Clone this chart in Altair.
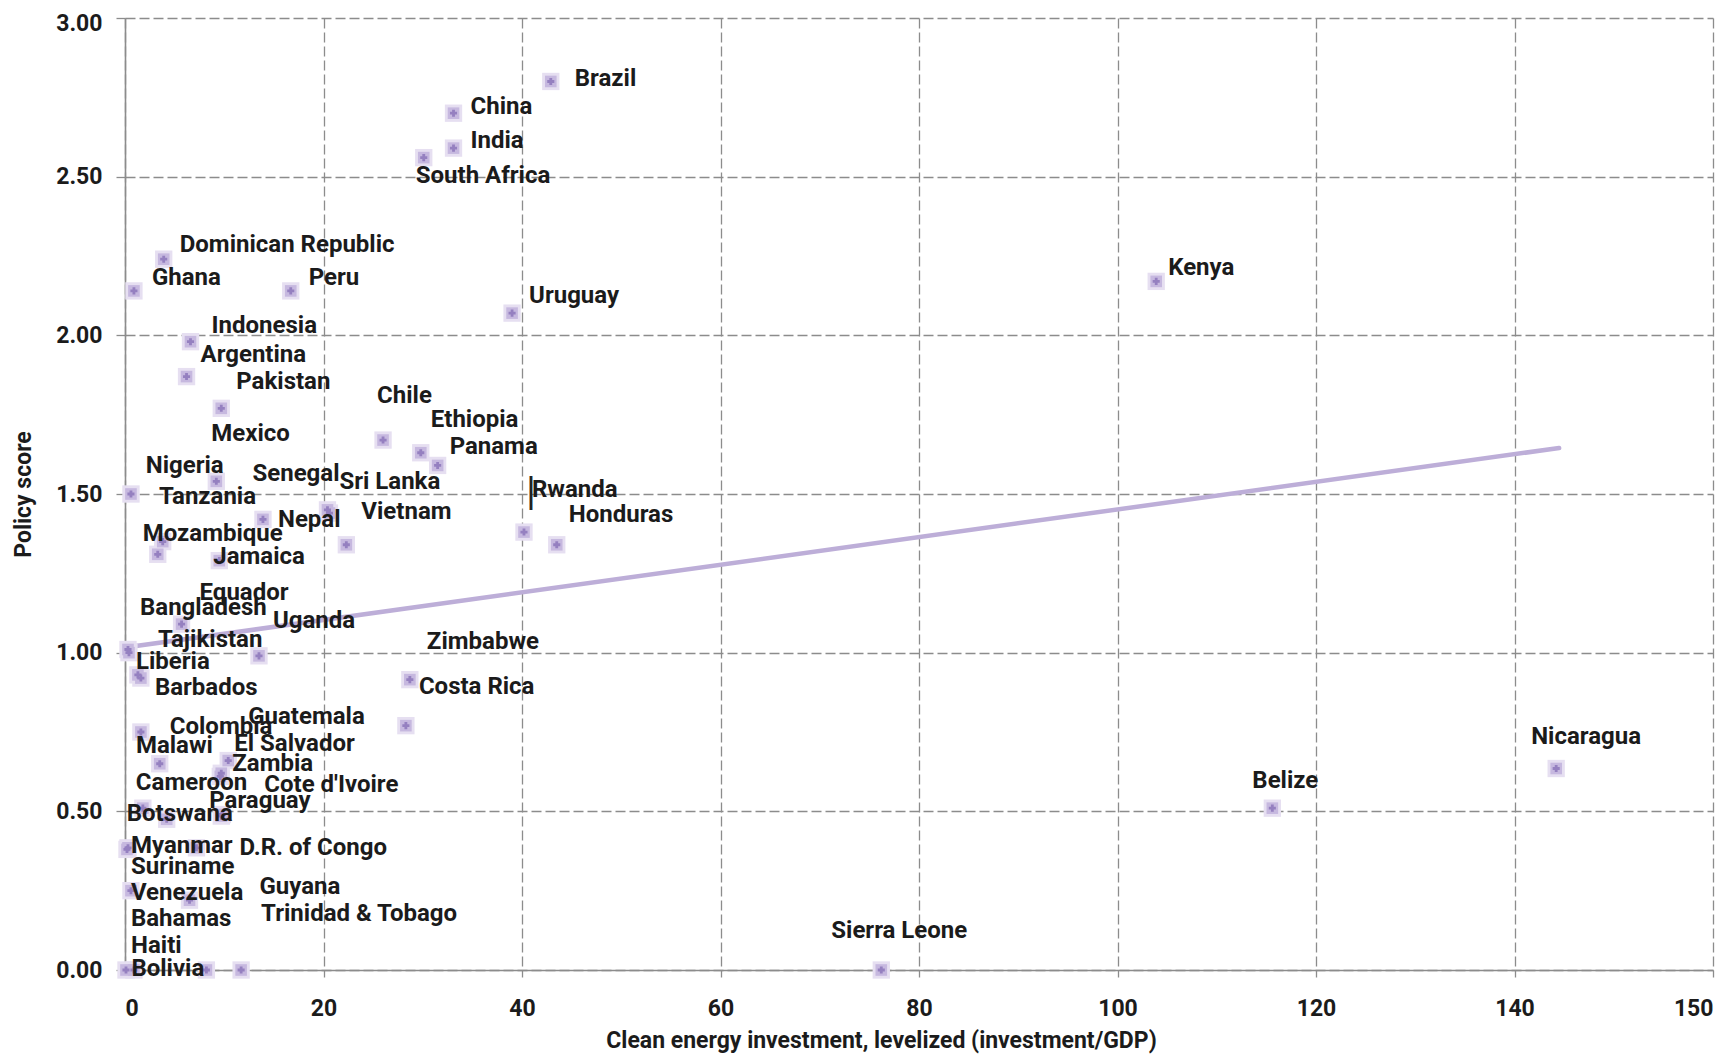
import altair as alt
import pandas as pd

# ---- data ----
countries = [
    "Brazil", "China", "India", "South Africa", "Uruguay", "Dominican Republic",
    "Ghana", "Peru", "Kenya", "Indonesia", "Argentina", "Pakistan", "Chile",
    "Ethiopia", "Panama", "Mexico", "Tanzania", "Sri Lanka", "Senegal", "Nepal",
    "Vietnam", "Rwanda", "Honduras", "Mozambique", "Nigeria", "Jamaica",
    "Equador", "Bangladesh", "Liberia", "Uganda", "Tajikistan", "Barbados",
    "Zimbabwe", "Costa Rica", "Malawi", "Colombia", "Guatemala", "El Salvador",
    "Zambia", "Cameroon", "Botswana", "Paraguay", "Cote d'Ivoire", "Myanmar",
    "D.R. of Congo", "Suriname", "Venezuela", "Guyana", "Trinidad & Tobago",
    "Bolivia", "Haiti", "Bahamas", "Belize", "Nicaragua", "Sierra Leone",
]
investment = [
    42.9, 33.1, 33.1, 30.1, 39.0, 3.9,
    0.9, 16.7, 103.9, 6.6, 6.2, 9.7, 26.0,
    29.8, 31.5, 9.2, 0.6, 20.6, 20.4, 13.9,
    22.3, 40.2, 43.5, 3.8, 3.3, 9.5,
    5.7, 0.3, 0.4, 13.5, 1.3, 1.6,
    28.7, 28.3, 1.6, 3.5, 10.4, 9.7,
    9.6, 1.8, 4.2, 9.7, 9.8, 0.3,
    7.2, 0.2, 0.6, 6.5, 11.7,
    8.2, 0.1, 0.9, 115.6, 144.2, 76.2,
]
policy = [
    2.80, 2.70, 2.59, 2.56, 2.07, 2.24,
    2.14, 2.14, 2.17, 1.98, 1.87, 1.77, 1.67,
    1.63, 1.59, 1.54, 1.50, 1.44, 1.45, 1.42,
    1.34, 1.38, 1.34, 1.35, 1.31, 1.29,
    1.09, 1.01, 1.00, 0.99, 0.93, 0.92,
    0.915, 0.77, 0.75, 0.65, 0.66, 0.62,
    0.61, 0.51, 0.475, 0.485, 0.49, 0.385,
    0.385, 0.38, 0.25, 0.22, 0.00,
    0.00, 0.00, 0.00, 0.51, 0.635, 0.00,
]

# trend line end points
trend_x = [0.0, 144.5]
trend_y = [1.016, 1.645]

x_ticks = [0, 20, 40, 60, 80, 100, 120, 140, 160]
y_ticks = [0.0, 0.5, 1.0, 1.5, 2.0, 2.5, 3.0]

# label placement (pixel offsets of each label from its point)
label_offsets = {
    "Brazil": (24, -2), "China": (17, -6), "India": (17, -7),
    "South Africa": (-8, 18), "Uruguay": (17, -17),
    "Dominican Republic": (16, -14), "Ghana": (18, -13), "Peru": (18, -13),
    "Kenya": (12, -13), "Indonesia": (21, -16), "Argentina": (14, -22),
    "Pakistan": (15, -26), "Chile": (-6, -44), "Ethiopia": (10, -33),
    "Panama": (12, -18), "Mexico": (-5, -47), "Tanzania": (28, 3),
    "Sri Lanka": (10, -31), "Senegal": (-75, -36), "Nepal": (15, 1),
    "Vietnam": (15, -33), "Rwanda": (8, -42), "Honduras": (12, -30),
    "Mozambique": (-20, -8), "Nigeria": (-12, -88), "Jamaica": (-6, -4),
    "Equador": (18, -31), "Bangladesh": (12, -41), "Liberia": (7, 9),
    "Uganda": (14, -35), "Tajikistan": (20, -35), "Barbados": (14, 10),
    "Zimbabwe": (17, -38), "Costa Rica": (13, -39), "Malawi": (-5, 14),
    "Colombia": (10, -37), "Guatemala": (20, -44), "El Salvador": (13, -29),
    "Zambia": (12, -12), "Cameroon": (-7, -25), "Botswana": (-40, -5),
    "Paraguay": (-12, -15), "Cote d'Ivoire": (42, -30), "Myanmar": (3, -2),
    "D.R. of Congo": (43, 0), "Suriname": (4, 18), "Venezuela": (0, 2),
    "Guyana": (70, -13), "Trinidad & Tobago": (20, -56), "Bolivia": (-75, -1),
    "Haiti": (5, -24), "Bahamas": (-3, -51), "Belize": (-20, -27),
    "Nicaragua": (-25, -31), "Sierra Leone": (-50, -39),
}

df = pd.DataFrame({"country": countries, "investment": investment, "policy": policy})
trend = pd.DataFrame({"investment": trend_x, "policy": trend_y})

FONT = "Roboto"
TEXT = "#1b1b1b"
GRID = "#8c8c8c"

x_enc = alt.X(
    "investment:Q",
    scale=alt.Scale(domain=[0, 160], nice=False, zero=True),
    axis=alt.Axis(
        values=x_ticks,
        labelExpr="datum.value == 160 ? '150' : datum.label",
        title="Clean energy investment, levelized (investment/GDP)",
        titleX=756,
        titleAnchor="start",
        titleAlign="center",
        titlePadding=9,
        labelPadding=20,
        tickSize=7,
        grid=True,
        gridDash=[10, 4],
        gridColor=GRID,
        gridWidth=1.3,
        domainColor=GRID,
        domainWidth=1.6,
        tickColor=GRID,
        tickWidth=1.3,
        labelFont=FONT,
        labelFontSize=23,
        labelFontWeight="bold",
        labelColor=TEXT,
        titleFont=FONT,
        titleFontSize=23,
        titleFontWeight="bold",
        titleColor=TEXT,
    ),
)
y_enc = alt.Y(
    "policy:Q",
    scale=alt.Scale(domain=[0, 3], nice=False, zero=True),
    axis=alt.Axis(
        values=y_ticks,
        format=".2f",
        title="Policy score",
        titlePadding=20,
        labelPadding=14,
        labelOffset={"condition": {"test": "datum.value == 3", "value": 5}, "value": 0},
        tickSize=9,
        grid=True,
        gridDash=[10, 4],
        gridColor=GRID,
        gridWidth=1.3,
        domainColor=GRID,
        domainWidth=1.6,
        tickColor=GRID,
        tickWidth=1.3,
        labelFont=FONT,
        labelFontSize=23,
        labelFontWeight="bold",
        labelColor=TEXT,
        titleFont=FONT,
        titleFontSize=23,
        titleFontWeight="bold",
        titleColor=TEXT,
    ),
)

base = alt.Chart(df)

trend_line = alt.Chart(trend).mark_line(
    color="#bdaed8", strokeWidth=4.5, strokeCap="round"
).encode(x=x_enc, y=y_enc)

halo = base.mark_point(shape="square", filled=True, size=300, color="#e6dff1", opacity=1).encode(
    x="investment:Q", y="policy:Q"
)
core = base.mark_point(shape="square", filled=True, size=135, color="#c6b8df", opacity=1).encode(
    x="investment:Q", y="policy:Q"
)
star = base.mark_point(shape="cross", filled=True, size=50, color="#9580c0", opacity=1).encode(
    x="investment:Q", y="policy:Q"
)

layers = [trend_line, halo, core, star]

for c in countries:
    dx, dy = label_offsets[c]
    layers.append(
        base.transform_filter(alt.FieldEqualPredicate(field="country", equal=c))
        .mark_text(
            align="left", baseline="middle", dx=dx, dy=dy,
            font=FONT, fontSize=24, fontWeight="bold", color=TEXT,
        )
        .encode(x="investment:Q", y="policy:Q", text="country:N")
    )

# thin bar drawn beside the Rwanda label in the original
layers.append(
    base.transform_filter(alt.FieldEqualPredicate(field="country", equal="Rwanda"))
    .mark_text(text="|", align="center", baseline="middle", dx=7, dy=-40,
               font="DejaVu Sans", fontSize=34, fontWeight="normal", color="#222222")
    .encode(x="investment:Q", y="policy:Q")
)

chart = alt.layer(*layers).properties(
    width=1588,
    height=952,
    autosize=alt.AutoSizeParams(type="none"),
    padding={"left": 117, "top": 10, "right": 14, "bottom": 84},
    background="white",
).configure_view(strokeWidth=0)

chart.save("out.html", embed_options={"renderer": "svg", "actions": False})
